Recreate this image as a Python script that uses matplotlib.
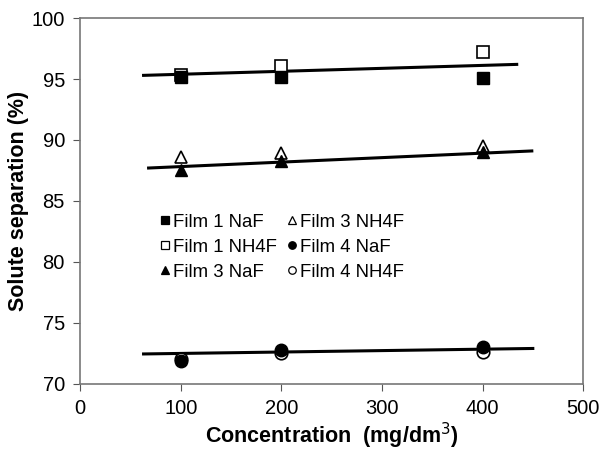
import matplotlib

matplotlib.use("Agg")
import matplotlib.pyplot as plt

plt.rcParams["font.family"] = ["Liberation Sans", "DejaVu Sans"]

conc = [100, 200, 400]
film1_naf = [95.2, 95.2, 95.1]
film1_nh4f = [95.3, 96.1, 97.2]
film3_naf = [87.5, 88.3, 89.0]
film3_nh4f = [88.6, 88.9, 89.5]
film4_naf = [71.9, 72.8, 73.0]
film4_nh4f = [72.0, 72.5, 72.6]

# trend lines (x range, y at ends)
trend1_x, trend1_y = [63, 434], [95.3, 96.2]
trend3_x, trend3_y = [68, 449], [87.7, 89.1]
trend4_x, trend4_y = [63, 450], [72.45, 72.9]

fig = plt.figure(figsize=(6.03, 4.63), dpi=100)
ax = fig.add_axes([0.133, 0.171, 0.834, 0.790])

ms = 9
for tx, ty in [(trend1_x, trend1_y), (trend3_x, trend3_y), (trend4_x, trend4_y)]:
    ax.plot(tx, ty, color="black", linewidth=2.2, zorder=1)

ax.plot(conc, film1_naf, "s", color="black", ms=ms, label="Film 1 NaF", zorder=3)
ax.plot(conc, film1_nh4f, "s", mfc="white", mec="black", mew=1.2, ms=ms, label="Film 1 NH4F", zorder=2)
ax.plot(conc, film3_naf, "^", color="black", ms=ms, label="Film 3 NaF", zorder=3)
ax.plot(conc, film3_nh4f, "^", mfc="white", mec="black", mew=1.2, ms=ms, label="Film 3 NH4F", zorder=2)
ax.plot(conc, film4_naf, "o", color="black", ms=ms, label="Film 4 NaF", zorder=3)
ax.plot(conc, film4_nh4f, "o", mfc="white", mec="black", mew=1.2, ms=ms, label="Film 4 NH4F", zorder=2)

ax.set_xlim(0, 500)
ax.set_ylim(70, 100)
ax.set_xticks(range(0, 501, 100))
ax.set_yticks(range(70, 101, 5))
ax.tick_params(axis="both", labelsize=14.5, direction="out", length=5, color="#555555")
ax.tick_params(axis="x", pad=6)
ax.tick_params(axis="y", pad=6)
for s in ax.spines.values():
    s.set_color("#777777")
    s.set_linewidth(1.2)

ax.set_xlabel("Concentration  (mg/dm$^3$)", fontsize=15.5, fontweight="bold", labelpad=2)
ax.set_ylabel("Solute separation (%)", fontsize=15.5, fontweight="bold", labelpad=2)

leg = ax.legend(ncol=2, frameon=False, fontsize=13.4, markerscale=0.6,
                handlelength=0.5, handletextpad=0.2, columnspacing=0.55,
                labelspacing=0.42, borderpad=0, loc="upper left",
                bbox_to_anchor=(0.14, 0.49))
for h in leg.legend_handles:
    h.set_markeredgewidth(0.9)

fig.savefig("out.png", dpi=100)
